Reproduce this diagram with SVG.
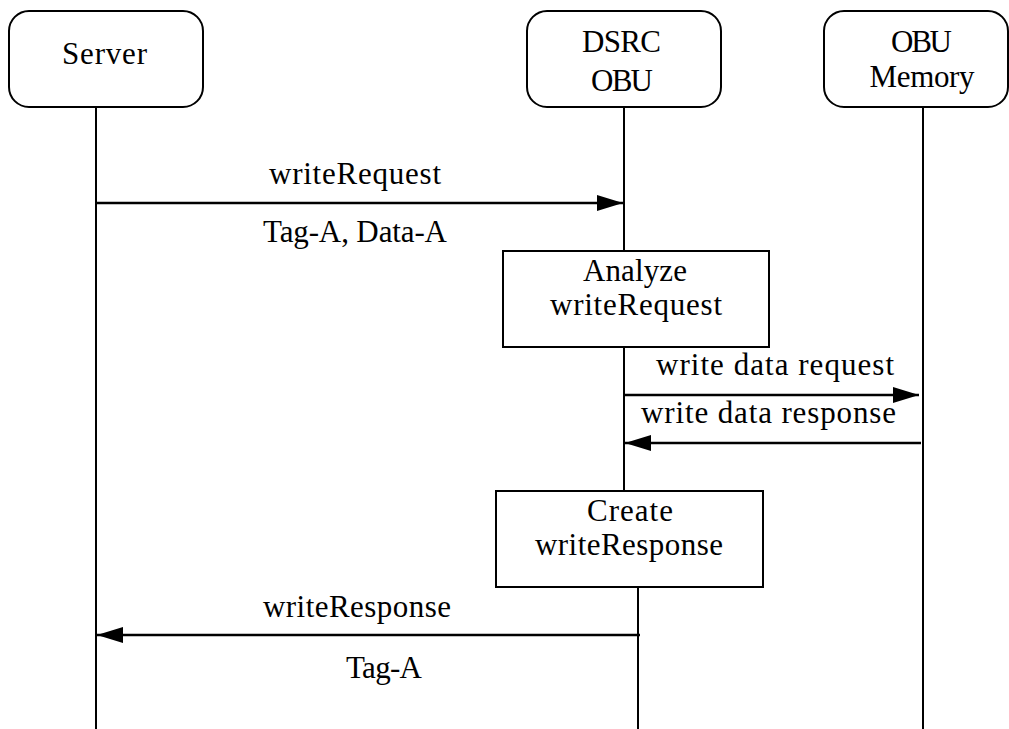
<svg xmlns="http://www.w3.org/2000/svg" width="1009" height="729" viewBox="0 0 1009 729">
  <style>
    .box { fill: #ffffff; stroke: #000000; stroke-width: 2; }
    .life { fill: none; stroke: #000000; stroke-width: 2; }
    .msg { fill: none; stroke: #000000; stroke-width: 2.5; }
    text { font-family: "Liberation Serif", "DejaVu Serif", serif; font-size: 31px; fill: #000000; text-anchor: middle; }
  </style>
  <defs>
    <marker id="head" markerUnits="userSpaceOnUse" markerWidth="27" markerHeight="17" refX="26" refY="8" orient="auto">
      <path d="M0,0 L26,8 L0,16 z" fill="#000000"/>
    </marker>
  </defs>

  <rect width="1009" height="729" fill="#ffffff"/>

  <!-- lifelines -->
  <g id="lifelines">
    <line class="life" x1="96" y1="107" x2="96" y2="729"/>
    <line class="life" x1="624" y1="107" x2="624" y2="251"/>
    <line class="life" x1="624" y1="347" x2="624" y2="491"/>
    <line class="life" x1="638" y1="587" x2="638" y2="729"/>
    <line class="life" x1="923" y1="107" x2="923" y2="729"/>
  </g>

  <!-- participants -->
  <g id="server">
    <rect class="box" x="9" y="11" width="194" height="96" rx="20"/>
    <text x="104.5" y="64" textLength="85">Server</text>
  </g>
  <g id="dsrc-obu">
    <rect class="box" x="527" y="11" width="194" height="96" rx="20"/>
    <text x="621.5" y="52" textLength="79">DSRC</text>
    <text x="622" y="91" textLength="62">OBU</text>
  </g>
  <g id="obu-memory">
    <rect class="box" x="824" y="11" width="184" height="96" rx="20"/>
    <text x="921.5" y="52" textLength="61">OBU</text>
    <text x="922" y="87" textLength="105">Memory</text>
  </g>

  <!-- processing steps -->
  <g id="analyze">
    <rect class="box" x="503" y="251" width="266" height="96"/>
    <text x="635" y="281" textLength="104">Analyze</text>
    <text x="636" y="315" textLength="172">writeRequest</text>
  </g>
  <g id="create">
    <rect class="box" x="496" y="491" width="267" height="96"/>
    <text x="630" y="521" textLength="86">Create</text>
    <text x="629" y="555" textLength="188">writeResponse</text>
  </g>

  <!-- messages -->
  <g id="connectors">
    <line class="msg" x1="96" y1="203" x2="623" y2="203" marker-end="url(#head)"/>
    <line class="msg" x1="625" y1="395" x2="919" y2="395" marker-end="url(#head)"/>
    <line class="msg" x1="921" y1="443" x2="625" y2="443" marker-end="url(#head)"/>
    <line class="msg" x1="640" y1="635" x2="97" y2="635" marker-end="url(#head)"/>
  </g>

  <!-- message labels -->
  <g id="labels">
    <text x="355" y="184" textLength="172">writeRequest</text>
    <text x="355" y="242" textLength="184">Tag-A, Data-A</text>
    <text x="775" y="375" textLength="238">write data request</text>
    <text x="768.5" y="423" textLength="255">write data response</text>
    <text x="357" y="617" textLength="188">writeResponse</text>
    <text x="384" y="678" textLength="76">Tag-A</text>
  </g>
</svg>
